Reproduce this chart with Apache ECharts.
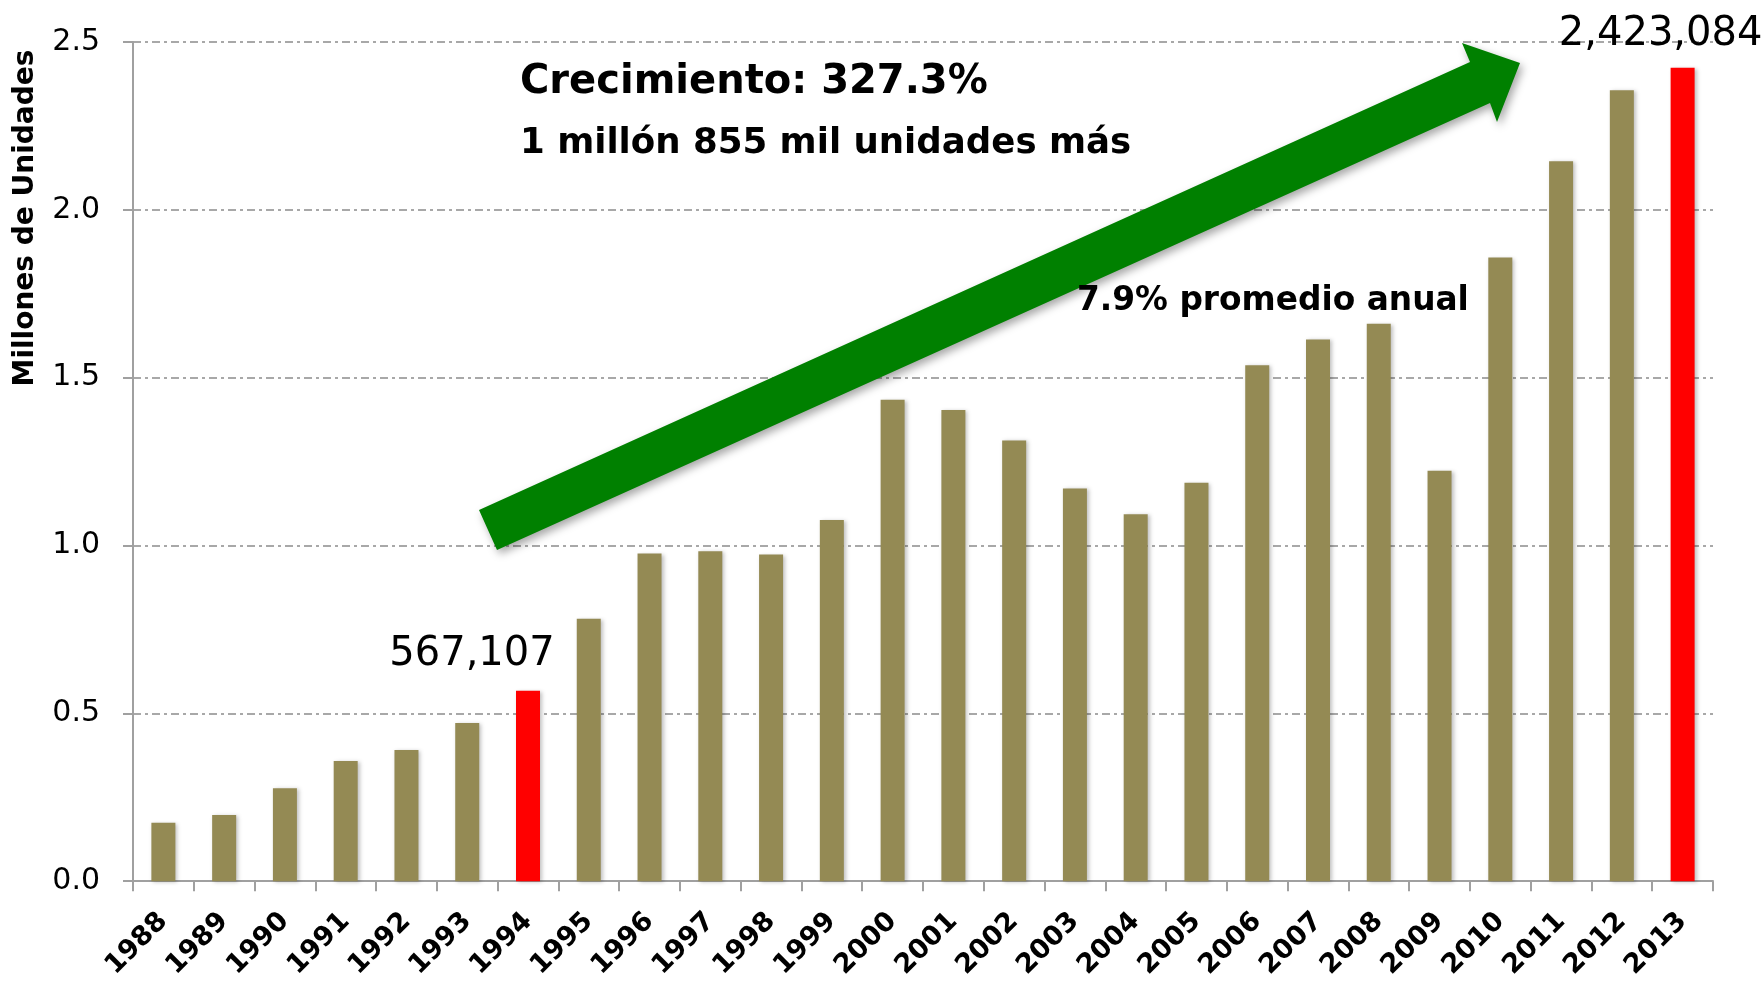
<!DOCTYPE html>
<html>
<head>
<meta charset="utf-8">
<title>Millones de Unidades 1988-2013</title>
<script src="https://cdn.jsdelivr.net/npm/echarts@6/dist/echarts.min.js"></script>
<style>
  html, body { margin: 0; padding: 0; background: #fff; }
  #chart { width: 1763px; height: 982px; }
</style>
</head>
<body>
<div id="chart"></div>
<script>
// años (eje x)
const years = ['1988', '1989', '1990', '1991', '1992', '1993', '1994', '1995', '1996',
  '1997', '1998', '1999', '2000', '2001', '2002', '2003', '2004', '2005', '2006',
  '2007', '2008', '2009', '2010', '2011', '2012', '2013'];
// millones de unidades
const units = [0.174, 0.197, 0.277, 0.358, 0.391, 0.471, 0.567107, 0.782, 0.976,
  0.983, 0.973, 1.076, 1.434, 1.404, 1.313, 1.170, 1.093, 1.187, 1.537,
  1.614, 1.661, 1.223, 1.858, 2.145, 2.356, 2.423084];
// años resaltados en rojo (con etiqueta)
const highlightYears = ['1994', '2013'];
const labelOffsets = { '1994': [-56, 0], '2013': [-22, 3] };

const FONT = "'DejaVu Sans', 'Liberation Sans', sans-serif";

const chart = echarts.init(document.getElementById('chart'));

const barData = units.map((v, i) => {
  const y = years[i];
  if (highlightYears.indexOf(y) < 0) return v;
  return {
    value: v,
    itemStyle: { color: '#ff0000' },
    label: {
      show: true,
      position: 'top',
      distance: 16,
      offset: labelOffsets[y],
      fontFamily: FONT,
      fontSize: 40,
      color: '#000',
      formatter: (p) => Math.round(p.value * 1e6).toLocaleString('en-US'),
    },
  };
});

const option = {
  backgroundColor: '#fff',
  animation: false,
  grid: { left: 133, right: 50, top: 42, bottom: 99 },
  xAxis: {
    type: 'category',
    data: years,
    axisLine: { lineStyle: { color: '#a0a0a0', width: 2 } },
    axisTick: { show: true, length: 10, lineStyle: { color: '#a0a0a0', width: 2 } },
    axisLabel: {
      rotate: 45,
      margin: 36,
      interval: 0,
      fontFamily: FONT,
      fontWeight: 'bold',
      fontSize: 27,
      color: '#000',
    },
  },
  yAxis: {
    type: 'value',
    min: 0,
    max: 2.5,
    interval: 0.5,
    axisLine: { show: true, lineStyle: { color: '#a0a0a0', width: 2 } },
    axisTick: { show: true, length: 10, lineStyle: { color: '#a0a0a0', width: 2 } },
    axisLabel: {
      margin: 33,
      fontFamily: FONT,
      fontSize: 30,
      color: '#000',
      formatter: (v) => v.toFixed(1),
    },
    splitLine: {
      lineStyle: { color: '#8c8c8c', width: 1.5, type: [8, 4, 3, 4] },
    },
  },
  series: [
    {
      type: 'bar',
      data: barData,
      barWidth: 24,
      itemStyle: {
        color: '#948a54',
        shadowBlur: 4,
        shadowColor: 'rgba(0,0,0,0.25)',
        shadowOffsetX: 2,
        shadowOffsetY: 1,
      },
    },
  ],
  graphic: [
    // flecha verde
    {
      type: 'polygon',
      z: 10,
      shape: {
        points: [[479, 510], [1470, 62], [1462, 43], [1520, 63], [1497, 122], [1490, 103], [497, 550]],
      },
      style: {
        fill: '#008000',
        shadowBlur: 8,
        shadowOffsetX: 3,
        shadowOffsetY: 4,
        shadowColor: 'rgba(0,0,0,0.35)',
      },
    },
    {
      type: 'text',
      z: 11,
      x: 520,
      y: 83,
      style: {
        text: 'Crecimiento: 327.3%',
        font: 'bold 40px ' + FONT,
        fill: '#000',
        textAlign: 'left',
        textVerticalAlign: 'middle',
      },
    },
    {
      type: 'text',
      z: 11,
      x: 520,
      y: 144,
      style: {
        text: '1 millón 855 mil unidades más',
        font: 'bold 35.6px ' + FONT,
        fill: '#000',
        textAlign: 'left',
        textVerticalAlign: 'middle',
      },
    },
    {
      type: 'text',
      z: 11,
      x: 1077,
      y: 301,
      style: {
        text: '7.9% promedio anual',
        font: 'bold 32.8px ' + FONT,
        fill: '#000',
        textAlign: 'left',
        textVerticalAlign: 'middle',
      },
    },
    // título del eje y
    {
      type: 'text',
      z: 11,
      x: 26,
      y: 218,
      rotation: Math.PI / 2,
      style: {
        text: 'Millones de Unidades',
        font: 'bold 28px ' + FONT,
        fill: '#000',
        textAlign: 'center',
        textVerticalAlign: 'middle',
      },
    },
  ],
};

chart.setOption(option);
</script>
</body>
</html>
